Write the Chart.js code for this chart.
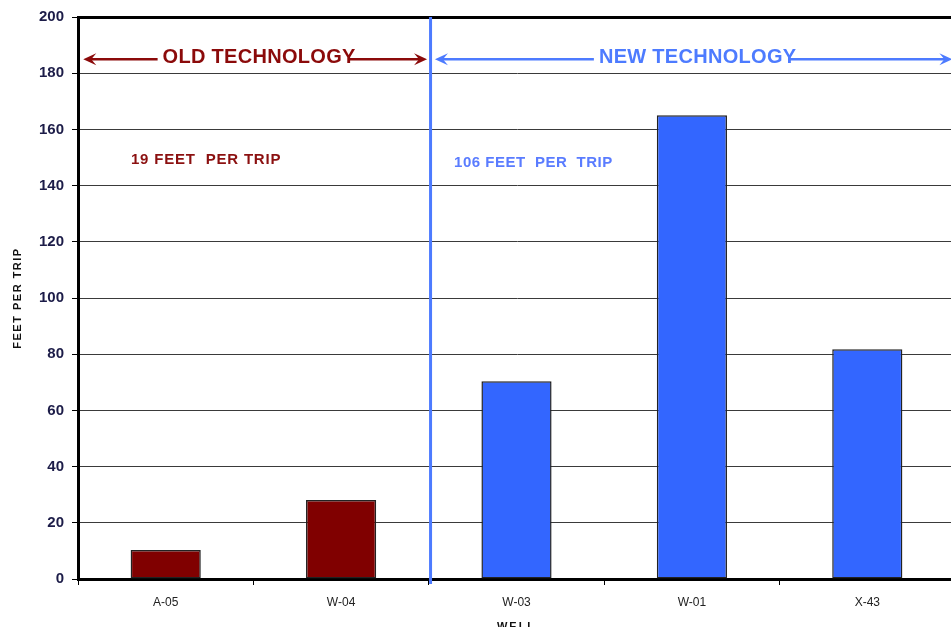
<!DOCTYPE html>
<html>
<head>
<meta charset="utf-8">
<script src="https://cdn.jsdelivr.net/npm/chart.js@4/dist/chart.umd.min.js"></script>
<style>
  html, body { margin: 0; padding: 0; background: #fff; overflow: hidden; }
  #wrap { width: 960px; height: 627px; }
</style>
</head>
<body>
<div id="wrap"><canvas id="tripChart" width="960" height="627"></canvas></div>
<script>
const wells = ['A-05', 'W-04', 'W-03', 'W-01', 'X-43']
const feetPerTrip = [10.3, 28.1, 70.4, 165, 81.8]
const barColors = ['#800000', '#800000', '#3366ff', '#3366ff', '#3366ff']
const yTicks = [0, 20, 40, 60, 80, 100, 120, 140, 160, 180, 200]

const RED = '#8b0a0a'
const BLUE = '#4d7bff'

// barbed arrow head with its tip at (x, y); dir = -1 points left, 1 points right
function arrowHead(ctx, x, y, dir) {
  ctx.beginPath()
  ctx.moveTo(x, y)
  ctx.lineTo(x - dir * 13, y - 6)
  ctx.lineTo(x - dir * 8, y)
  ctx.lineTo(x - dir * 13, y + 6)
  ctx.closePath()
  ctx.fill()
}

function rangeLabel(ctx, x1, x2, y, textY, label, color) {
  ctx.save()
  ctx.strokeStyle = color
  ctx.fillStyle = color
  ctx.lineWidth = 2.5
  ctx.beginPath()
  ctx.moveTo(x1 + 6, y)
  ctx.lineTo(x2 - 6, y)
  ctx.stroke()
  arrowHead(ctx, x1, y, -1)
  arrowHead(ctx, x2, y, 1)
  ctx.font = 'bold 20px Arial, "Liberation Sans", sans-serif'
  ctx.letterSpacing = '0.3px'
  const w = ctx.measureText(label).width
  const cx = (x1 + x2) / 2 + 4
  ctx.fillStyle = '#fff'
  ctx.fillRect(cx - w / 2 - 5, y - 6, w - 2, 12)
  ctx.fillStyle = color
  ctx.textAlign = 'center'
  ctx.textBaseline = 'middle'
  ctx.fillText(label, cx, textY)
  ctx.restore()
}

const decorations = {
  id: 'decorations',
  afterDatasetsDraw(chart) {
    const { ctx, chartArea, scales: { x, y } } = chart
    // divider between old and new technology
    const divX = x.getPixelForValue(1.51)
    ctx.save()
    ctx.strokeStyle = BLUE
    ctx.lineWidth = 3
    ctx.beginPath()
    ctx.moveTo(divX, chartArea.top)
    ctx.lineTo(divX, chartArea.bottom + 5)
    ctx.stroke()
    ctx.restore()

    const arrowY = y.getPixelForValue(185)
    const textY = y.getPixelForValue(185.6)
    rangeLabel(ctx, x.getPixelForValue(-0.47), x.getPixelForValue(1.49), arrowY, textY, 'OLD TECHNOLOGY', RED)
    rangeLabel(ctx, x.getPixelForValue(1.535), x.getPixelForValue(4.485), arrowY, textY, 'NEW TECHNOLOGY', BLUE)

    ctx.save()
    ctx.font = 'bold 15px Arial, "Liberation Sans", sans-serif'
    ctx.textBaseline = 'middle'
    ctx.textAlign = 'left'
    ctx.letterSpacing = '0.8px'
    ctx.fillStyle = '#8b1010'
    ctx.fillText('19 FEET  PER TRIP', x.getPixelForValue(-0.198), y.getPixelForValue(149))
    ctx.letterSpacing = '0.5px'
    ctx.fillStyle = '#5a7cff'
    ctx.fillText('106 FEET  PER  TRIP', x.getPixelForValue(1.644), y.getPixelForValue(148))
    ctx.restore()
  },
  afterDraw(chart) {
    const { ctx, chartArea } = chart
    ctx.save()
    ctx.fillStyle = '#111'
    ctx.font = 'bold 11px Arial, "Liberation Sans", sans-serif'
    ctx.letterSpacing = '1.5px'
    ctx.textAlign = 'center'
    ctx.textBaseline = 'middle'
    ctx.translate(18, 298)
    ctx.rotate(-Math.PI / 2)
    ctx.fillText('FEET PER TRIP', 0, 0)
    ctx.restore()

    ctx.save()
    ctx.fillStyle = '#111'
    ctx.font = 'bold 11px Arial, "Liberation Sans", sans-serif'
    ctx.letterSpacing = '2px'
    ctx.textAlign = 'center'
    ctx.textBaseline = 'alphabetic'
    ctx.fillText('WELL', (chartArea.left + chartArea.right) / 2, 630)
    ctx.restore()
  }
}

new Chart(document.getElementById('tripChart'), {
  type: 'bar',
  data: {
    labels: wells,
    datasets: [{
      data: feetPerTrip,
      backgroundColor: barColors,
      borderColor: '#222',
      borderWidth: 1.5,
      borderSkipped: false,
      barPercentage: 0.4,
      categoryPercentage: 1
    }]
  },
  options: {
    responsive: false,
    animation: false,
    layout: {
      padding: { top: 17, right: 5, left: 0, bottom: 0 }
    },
    plugins: {
      legend: { display: false },
      tooltip: { enabled: false }
    },
    scales: {
      x: {
        afterFit: function(scale) { scale.height = 48 },
        grid: {
          offset: true,
          drawOnChartArea: false,
          drawTicks: true,
          tickLength: 6,
          color: '#000'
        },
        border: { display: true, color: '#000', width: 3 },
        ticks: {
          padding: 10,
          color: '#222',
          font: { family: 'Arial, "Liberation Sans", sans-serif', size: 12 }
        }
      },
      y: {
        min: 0,
        max: 200,
        afterFit: function(scale) { scale.width = 78 },
        afterBuildTicks: function(scale) {
          scale.ticks = yTicks.map(v => ({ value: v }))
        },
        grid: {
          color: function(ctx) { return ctx.tick && ctx.tick.value === 200 ? '#000' : '#3a3a3a' },
          lineWidth: function(ctx) { return ctx.tick && ctx.tick.value === 200 ? 3 : 1 },
          tickColor: '#000',
          tickWidth: 1,
          tickLength: 6
        },
        border: { display: true, color: '#000', width: 3 },
        ticks: {
          padding: 8,
          color: '#1c1c48',
          font: { family: 'Arial, "Liberation Sans", sans-serif', size: 15, weight: 'bold' }
        }
      }
    }
  },
  plugins: [decorations]
})
</script>
</body>
</html>
